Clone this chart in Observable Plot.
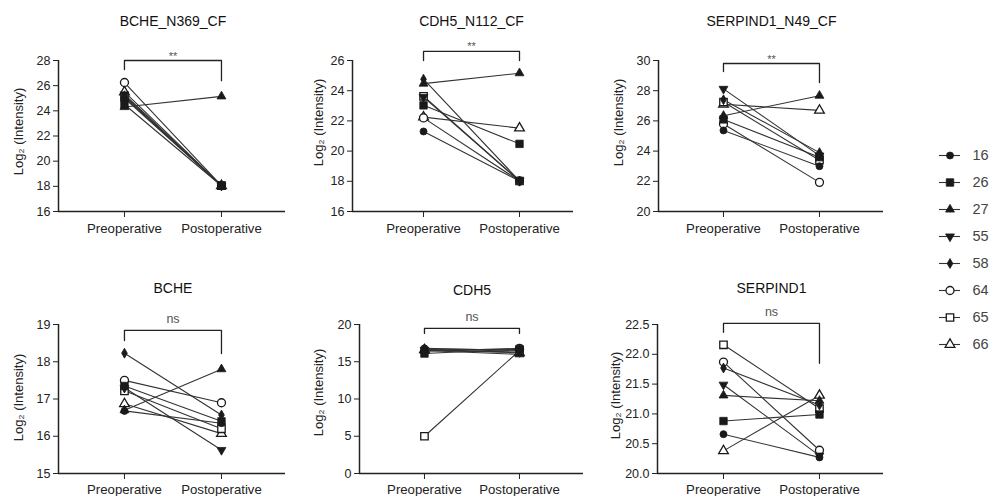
<!DOCTYPE html>
<html><head><meta charset="utf-8">
<script src="https://cdn.jsdelivr.net/npm/d3@7"></script>
<script src="https://cdn.jsdelivr.net/npm/@observablehq/plot@0.6"></script>
<style>
body{margin:0;background:#fff;}
#chart{position:relative;width:1003px;height:496px;overflow:hidden;background:#fff;font-family:"Liberation Sans",Arial,sans-serif;}
#chart svg{position:absolute;overflow:visible;}
g[aria-label="x-axis tick label"]{font-size:13.2px;}
g[aria-label="y-axis tick label"]{font-size:12.5px;}
</style></head><body><div id="chart"></div>
<script>
// ---- data ----
const subjects = ["16","26","27","55","58","64","65","66"];
const timepoints = ["Preoperative","Postoperative"];
const panelTitles = ["BCHE_N369_CF","CDH5_N112_CF","SERPIND1_N49_CF","BCHE","CDH5","SERPIND1"];
const significance = ["**","**","**","ns","ns","ns"];
const yAxisLabel = "Log\u2082 (Intensity)";

const bcheN369Pre   = [25.0, 24.5, 24.3, 25.3, 25.2, 26.25, 25.1, 25.5];
const bcheN369Post  = [18.05, 18.05, 25.15, 18.05, 18.05, 18.05, 18.05, 18.05];
const cdh5N112Pre   = [21.3, 23.03, 24.47, 23.58, 24.76, 22.2, 23.63, 22.25];
const cdh5N112Post  = [18.02, 20.48, 25.16, 18.02, 18.02, 18.02, 18.02, 21.52];
const serpind1N49Pre  = [25.37, 26.1, 26.34, 28.12, 27.4, 25.8, 27.25, 27.1];
const serpind1N49Post = [23.0, 23.6, 27.67, 23.7, 23.9, 21.93, 23.4, 26.7];
const bchePre   = [16.68, 17.35, 16.7, 17.3, 18.23, 17.5, 17.22, 16.87];
const bchePost  = [16.35, 16.4, 17.8, 15.63, 16.57, 16.9, 16.2, 16.07];
const cdh5Pre   = [16.8, 16.1, 16.5, 16.6, 16.7, 16.4, 5.0, 16.6];
const cdh5Post  = [16.5, 16.7, 16.0, 16.3, 16.6, 16.8, 16.5, 16.2];
const serpind1Pre  = [20.66, 20.88, 21.31, 21.49, 21.77, 21.87, 22.16, 20.38];
const serpind1Post = [20.27, 20.99, 21.22, 20.3, 21.15, 20.39, 21.09, 21.31];

const yDomains = [[16,28],[16,26],[20,30],[15,19],[0,20],[20,22.5]];
const yTicks = [[16,18,20,22,24,26,28],[16,18,20,22,24,26],[20,22,24,26,28,30],[15,16,17,18,19],[0,5,10,15,20],[20,20.5,21,21.5,22,22.5]];
const yTickFormats = ["d","d","d","d","d",".1f"];
// significance bracket levels: [top, left leg end, right leg end]
const brackets = [[28.0,27.28,26.4],[26.6,26.0,26.0],[29.8,29.27,28.54],[18.84,18.57,18.22],[19.47,18.8,18.8],[22.52,22.37,21.85]];

const preValues  = [bcheN369Pre, cdh5N112Pre, serpind1N49Pre, bchePre, cdh5Pre, serpind1Pre];
const postValues = [bcheN369Post, cdh5N112Post, serpind1N49Post, bchePost, cdh5Post, serpind1Post];

// ---- layout (pixels) ----
const layouts = [
  {left:0,   top:0,   width:290, height:250, ml:58, mr:5,  mt:60, mb:39, xd:[-0.68,1.66],  labDx:-40, labY:131, titleY:16, tp:6},
  {left:290, top:0,   width:300, height:250, ml:62, mr:17, mt:60, mb:39, xd:[-0.74,1.5625],labDx:-34, labY:122, titleY:16, tp:6},
  {left:590, top:0,   width:300, height:250, ml:68, mr:7,  mt:60, mb:39, xd:[-0.677,1.667],labDx:-40, labY:122, titleY:16, tp:6},
  {left:0,   top:250, width:290, height:246, ml:58, mr:5,  mt:74, mb:23, xd:[-0.68,1.66],  labDx:-40, labY:147, titleY:33, tp:5},
  {left:290, top:250, width:300, height:246, ml:69, mr:7,  mt:74, mb:23, xd:[-0.684,1.674],labDx:-41, labY:142, titleY:35, tp:5},
  {left:590, top:250, width:300, height:246, ml:67, mr:7,  mt:74, mb:23, xd:[-0.6875,1.667],labDx:-42, labY:145, titleY:33, tp:5}
];

// ---- symbols ----
const downTriangle = {draw(ctx, size){
  const s3 = Math.sqrt(3), y = -Math.sqrt(size / (s3 * 3));
  ctx.moveTo(0, -y * 2); ctx.lineTo(-s3 * y, y); ctx.lineTo(s3 * y, y); ctx.closePath();
}};
const subjectSymbols = [d3.symbolCircle, d3.symbolSquare, d3.symbolTriangle, downTriangle, d3.symbolDiamond, d3.symbolCircle, d3.symbolSquare, d3.symbolTriangle];
const subjectFilled = [true,true,true,true,true,false,false,false];
const subjectR = [3.5,4.2,3.3,3.3,3.0,4.0,4.2,3.6];
const drawOrder = [7,6,5,4,3,2,0,1]; // open symbols underneath, filled square on top
const ink = "#1a1a1a";

function dotMarks(data, xAcc, yAcc, key) {
  return drawOrder.map(i => Plot.dot(data.filter(d => key(d) === subjects[i]), {
    x: xAcc, y: yAcc, symbol: subjectSymbols[i], r: subjectR[i],
    fill: subjectFilled[i] ? ink : "white", stroke: ink, strokeWidth: subjectFilled[i] ? 0.8 : 1.3
  }));
}

const chart = document.getElementById("chart");
const fontFamily = "'Liberation Sans', Arial, sans-serif";

panelTitles.forEach((title, p) => {
  const L = layouts[p];
  const rows = subjects.flatMap((s, i) => [
    {subject: s, t: 0, v: preValues[p][i]},
    {subject: s, t: 1, v: postValues[p][i]}
  ]);
  const [bTop, bLeft, bRight] = brackets[p];
  const bracket = [{t:0, v:bLeft},{t:0, v:bTop},{t:1, v:bTop},{t:1, v:bRight}];
  const isStar = significance[p] === "**";
  const frameMidY = L.mt + (L.height - L.mt - L.mb) / 2;
  const svg = Plot.plot({
    width: L.width, height: L.height,
    marginLeft: L.ml, marginRight: L.mr, marginTop: L.mt, marginBottom: L.mb,
    style: {fontFamily, fontSize: "12.5px", color: "#222", background: "transparent", overflow: "visible"},
    x: {type: "linear", domain: L.xd, ticks: [0, 1], tickFormat: i => timepoints[i], tickSize: 6, tickPadding: L.tp, label: null},
    y: {domain: yDomains[p], ticks: yTicks[p], tickFormat: yTickFormats[p], tickSize: 5, tickPadding: 3, label: null},
    marks: [
      Plot.ruleY([yDomains[p][0]], {stroke: "#222", strokeWidth: 1.5}),
      Plot.ruleX([L.xd[0]], {stroke: "#222", strokeWidth: 1.5}),
      Plot.line(rows, {x: "t", y: "v", z: "subject", stroke: "#333", strokeWidth: 1.1}),
      ...dotMarks(rows, "t", "v", d => d.subject),
      Plot.line(bracket, {x: "t", y: "v", stroke: "#222", strokeWidth: 1.3}),
      Plot.text([significance[p]], {x: () => 0.5, y: () => bTop, text: d => d, lineAnchor: "bottom",
        dy: isStar ? -1 : -7, fontSize: isStar ? 11 : 12.5, fill: "#555"}),
      Plot.text([title], {x: () => 0.5, frameAnchor: "top", dy: L.titleY - L.mt, fontSize: 14, fill: "#111", text: d => d}),
      Plot.text([yAxisLabel], {frameAnchor: "left", textAnchor: "middle", rotate: -90, dx: L.labDx,
        dy: L.labY - frameMidY, fontSize: 13, fill: "#222", text: d => d})
    ]
  });
  svg.style.left = L.left + "px";
  svg.style.top = L.top + "px";
  chart.appendChild(svg);
});

// ---- legend ----
const legend = Plot.plot({
  width: 73, height: 220, marginLeft: 9, marginRight: 43, marginTop: 13, marginBottom: 14,
  style: {fontFamily, background: "transparent", overflow: "visible"},
  x: {domain: [0, 1], axis: null},
  y: {type: "point", domain: subjects, padding: 0, axis: null},
  marks: [
    Plot.ruleY(subjects, {y: d => d, x1: 0, x2: 1, stroke: "#333", strokeWidth: 1.1}),
    ...dotMarks(subjects, () => 0.5, d => d, d => d),
    Plot.text(subjects, {y: d => d, x: () => 1, dx: 12, textAnchor: "start", fontSize: 14.5, fill: "#444", text: d => d})
  ]
});
legend.style.left = "930px";
legend.style.top = "140px";
chart.appendChild(legend);
</script></body></html>
